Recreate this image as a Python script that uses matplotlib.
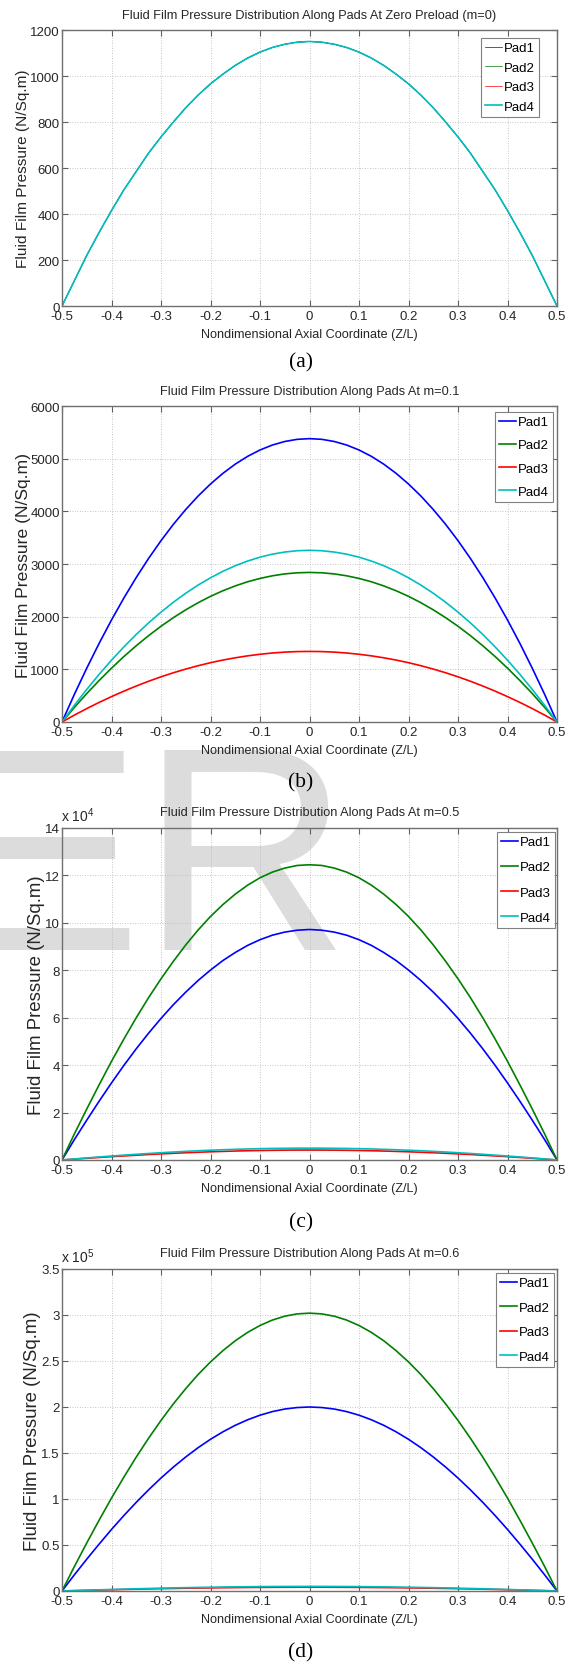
import matplotlib
matplotlib.use('Agg')
import matplotlib.pyplot as plt
from matplotlib.ticker import FormatStrFormatter

# Pressure along the pads (a)-(d) every 0.025 in Z/L.
z = [-0.5, -0.475, -0.45, -0.425, -0.4, -0.375, -0.35, -0.325, -0.3, -0.275, -0.25,
     -0.225, -0.2, -0.175, -0.15, -0.125, -0.1, -0.075, -0.05, -0.025, 0.0,
     0.025, 0.05, 0.075, 0.1, 0.125, 0.15, 0.175, 0.2, 0.225, 0.25,
     0.275, 0.3, 0.325, 0.35, 0.375, 0.4, 0.425, 0.45, 0.475, 0.5]

# (a) zero preload: all four pads coincide
pad_a = [0, 110, 220, 320, 415, 505, 585, 665, 735, 800, 862,
         917, 966, 1008, 1046, 1078, 1104, 1124, 1138, 1147, 1150,
         1147, 1138, 1124, 1104, 1078, 1046, 1008, 966, 917, 862,
         800, 735, 665, 585, 505, 415, 320, 220, 110, 0]

# (b) m=0.1
pad1_b = [0, 525, 1022, 1493, 1937, 2354, 2744, 3107, 3443, 3753, 4035,
          4291, 4519, 4721, 4896, 5044, 5165, 5259, 5326, 5367, 5380,
          5367, 5326, 5259, 5165, 5044, 4896, 4721, 4519, 4291, 4035,
          3753, 3443, 3107, 2744, 2354, 1937, 1493, 1022, 525, 0]
pad2_b = [0, 277, 540, 788, 1022, 1243, 1448, 1640, 1818, 1981, 2130,
          2265, 2386, 2492, 2584, 2663, 2726, 2776, 2812, 2833, 2840,
          2833, 2812, 2776, 2726, 2663, 2584, 2492, 2386, 2265, 2130,
          1981, 1818, 1640, 1448, 1243, 1022, 788, 540, 277, 0]
pad3_b = [0, 131, 255, 372, 482, 586, 683, 774, 858, 935, 1005,
          1069, 1126, 1176, 1219, 1256, 1286, 1310, 1327, 1337, 1340,
          1337, 1327, 1310, 1286, 1256, 1219, 1176, 1126, 1069, 1005,
          935, 858, 774, 683, 586, 482, 372, 255, 131, 0]
pad4_b = [0, 318, 619, 905, 1174, 1426, 1663, 1883, 2086, 2274, 2445,
          2600, 2738, 2861, 2967, 3056, 3130, 3187, 3227, 3252, 3260,
          3252, 3227, 3187, 3130, 3056, 2967, 2861, 2738, 2600, 2445,
          2274, 2086, 1883, 1663, 1426, 1174, 905, 619, 318, 0]

# (c) m=0.5, in units of 1e4
pad1_c = [0, 0.86, 1.68, 2.48, 3.25, 3.99, 4.69, 5.35, 5.97, 6.55, 7.08,
          7.57, 8.01, 8.41, 8.75, 9.05, 9.29, 9.48, 9.61, 9.69, 9.72,
          9.69, 9.61, 9.48, 9.29, 9.05, 8.75, 8.41, 8.01, 7.57, 7.08,
          6.55, 5.97, 5.35, 4.69, 3.99, 3.25, 2.48, 1.68, 0.86, 0]
pad2_c = [0, 1.10, 2.15, 3.17, 4.16, 5.10, 6.00, 6.85, 7.64, 8.38, 9.07,
          9.70, 10.27, 10.77, 11.21, 11.59, 11.90, 12.14, 12.31, 12.42, 12.45,
          12.42, 12.31, 12.14, 11.90, 11.59, 11.21, 10.77, 10.27, 9.70, 9.07,
          8.38, 7.64, 6.85, 6.00, 5.10, 4.16, 3.17, 2.15, 1.10, 0]
pad3_c = [0, 0.037, 0.073, 0.107, 0.140, 0.172, 0.202, 0.231, 0.258, 0.283, 0.306,
          0.327, 0.346, 0.363, 0.378, 0.391, 0.401, 0.410, 0.415, 0.419, 0.420,
          0.419, 0.415, 0.410, 0.401, 0.391, 0.378, 0.363, 0.346, 0.327, 0.306,
          0.283, 0.258, 0.231, 0.202, 0.172, 0.140, 0.107, 0.073, 0.037, 0]
pad4_c = [0, 0.044, 0.087, 0.128, 0.167, 0.205, 0.241, 0.275, 0.307, 0.337, 0.364,
          0.390, 0.412, 0.433, 0.450, 0.465, 0.478, 0.488, 0.494, 0.499, 0.500,
          0.499, 0.494, 0.488, 0.478, 0.465, 0.450, 0.433, 0.412, 0.390, 0.364,
          0.337, 0.307, 0.275, 0.241, 0.205, 0.167, 0.128, 0.087, 0.044, 0]

# (d) m=0.6, in units of 1e5
pad1_d = [0, 0.176, 0.346, 0.510, 0.669, 0.820, 0.964, 1.100, 1.228, 1.347, 1.457,
          1.558, 1.649, 1.730, 1.801, 1.861, 1.911, 1.950, 1.978, 1.994, 2.000,
          1.994, 1.978, 1.950, 1.911, 1.861, 1.801, 1.730, 1.649, 1.558, 1.457,
          1.347, 1.228, 1.100, 0.964, 0.820, 0.669, 0.510, 0.346, 0.176, 0]
pad2_d = [0, 0.266, 0.522, 0.770, 1.010, 1.238, 1.456, 1.661, 1.854, 2.034, 2.200,
          2.353, 2.490, 2.612, 2.720, 2.811, 2.886, 2.945, 2.987, 3.012, 3.020,
          3.012, 2.987, 2.945, 2.886, 2.811, 2.720, 2.612, 2.490, 2.353, 2.200,
          2.034, 1.854, 1.661, 1.456, 1.238, 1.010, 0.770, 0.522, 0.266, 0]
pad3_d = [0, 0.0036, 0.0071, 0.0105, 0.0137, 0.0168, 0.0198, 0.0226, 0.0252, 0.0276, 0.0299,
          0.0319, 0.0338, 0.0355, 0.0369, 0.0382, 0.0392, 0.0400, 0.0405, 0.0409, 0.0410,
          0.0409, 0.0405, 0.0400, 0.0392, 0.0382, 0.0369, 0.0355, 0.0338, 0.0319, 0.0299,
          0.0276, 0.0252, 0.0226, 0.0198, 0.0168, 0.0137, 0.0105, 0.0071, 0.0036, 0]
pad4_d = [0, 0.0044, 0.0087, 0.0128, 0.0167, 0.0205, 0.0241, 0.0275, 0.0307, 0.0337, 0.0364,
          0.0390, 0.0412, 0.0433, 0.0450, 0.0465, 0.0478, 0.0488, 0.0494, 0.0499, 0.0500,
          0.0499, 0.0494, 0.0488, 0.0478, 0.0465, 0.0450, 0.0433, 0.0412, 0.0390, 0.0364,
          0.0337, 0.0307, 0.0275, 0.0241, 0.0205, 0.0167, 0.0128, 0.0087, 0.0044, 0]

pad_names = ['Pad1', 'Pad2', 'Pad3', 'Pad4']
pad_colors = ['#0000ff', '#008000', '#ff0000', '#00bfbf']
xticks = [-0.5, -0.4, -0.3, -0.2, -0.1, 0, 0.1, 0.2, 0.3, 0.4, 0.5]

plt.rcParams['axes.unicode_minus'] = False
plt.rcParams['mathtext.default'] = 'regular'
plt.rcParams['font.family'] = ['Liberation Sans', 'DejaVu Sans']

W, H = 573.0, 1665.0
fig = plt.figure(figsize=(W / 100, H / 100), dpi=100)
fig.patch.set_facecolor('white')

# light watermark behind everything
fig.text(-52 / W, 1 - 950 / H, 'ER', fontsize=208, family='Liberation Sans',
         color='#dcdcdc', ha='left', va='baseline', zorder=-5)

panels = [
  dict(top=31, bottom=307, series=[pad_a] * 4, ylim=1200, ystep=200, lw=[0.5, 0.5, 0.5, 1.2],
       title='Fluid Film Pressure Distribution Along Pads At Zero Preload (m=0)',
       ylsize=11.1, ylx=-0.064, offset=None, cap='(a)', capy=363,
       leg_anchor=(1 - 18 / 495, 1 - 8 / 276), legspace=0.56),
  dict(top=407, bottom=723, series=[pad1_b, pad2_b, pad3_b, pad4_b], ylim=6000, ystep=1000,
       lw=[1.2] * 4, title='Fluid Film Pressure Distribution Along Pads At m=0.1',
       ylsize=12.6, ylx=-0.062, offset=None, cap='(b)', capy=783,
       leg_anchor=(1 - 4 / 495, 1 - 6 / 316), legspace=0.83),
  dict(top=829, bottom=1161, series=[pad1_c, pad2_c, pad3_c, pad4_c], ylim=14, ystep=2,
       lw=[1.2] * 4, title='Fluid Film Pressure Distribution Along Pads At m=0.5',
       ylsize=13.4, ylx=-0.034, offset='x 10$^{4}$', cap='(c)', capy=1223,
       leg_anchor=(1 - 2 / 495, 1 - 4 / 332), legspace=0.98),
  dict(top=1270, bottom=1592, series=[pad1_d, pad2_d, pad3_d, pad4_d], ylim=3.5, ystep=0.5,
       lw=[1.2] * 4, title='Fluid Film Pressure Distribution Along Pads At m=0.6',
       ylsize=13.4, ylx=-0.042, offset='x 10$^{5}$', cap='(d)', capy=1653,
       leg_anchor=(1 - 3 / 495, 1 - 4 / 322), legspace=0.93),
]

left, right = 62, 557
for p in panels:
  ax = fig.add_axes([left / W, 1 - p['bottom'] / H, (right - left) / W, (p['bottom'] - p['top']) / H])
  ax.set_facecolor('none')
  for name, color, vals, lw in zip(pad_names, pad_colors, p['series'], p['lw']):
    ax.plot(z, vals, color=color, lw=lw, label=name)

  ax.set_xlim(-0.5, 0.5)
  ax.set_ylim(0, p['ylim'])
  ax.set_xticks(xticks)
  n = int(round(p['ylim'] / p['ystep']))
  ax.set_yticks([i * p['ystep'] for i in range(n + 1)])
  ax.xaxis.set_major_formatter(FormatStrFormatter('%g'))
  ax.yaxis.set_major_formatter(FormatStrFormatter('%g'))
  ax.grid(True, color='#b4b4b4', lw=0.6, linestyle=(0, (1, 2)))
  ax.tick_params(direction='in', length=4, width=0.8, color='#606060',
                 top=True, right=True, labelsize=9.5, labelcolor='#262626')
  ax.tick_params(axis='x', pad=3)
  ax.tick_params(axis='y', pad=1.5)
  for s in ax.spines.values():
    s.set_color('#707070')
    s.set_linewidth(1.0)

  ax.set_title(p['title'], fontsize=9.2, color='#262626', pad=9)
  ax.set_xlabel('Nondimensional Axial Coordinate (Z/L)', fontsize=9.1, color='#262626', labelpad=4)
  ax.set_ylabel('Fluid Film Pressure (N/Sq.m)', fontsize=p['ylsize'], color='#262626')
  ax.yaxis.set_label_coords(p['ylx'], 0.5)
  if p['offset']:
    ax.annotate(p['offset'], xy=(0, 1), xycoords='axes fraction', xytext=(-1, 3),
                textcoords='offset points', ha='left', va='bottom', fontsize=10, color='#262626')

  leg = ax.legend(loc='upper right', bbox_to_anchor=p['leg_anchor'], borderaxespad=0,
                  fontsize=9.5, handlelength=1.3, handletextpad=0.15, borderpad=0.3,
                  labelspacing=p['legspace'], fancybox=False, framealpha=1,
                  edgecolor='#808080')
  leg.get_frame().set_linewidth(0.8)

  fig.text(301 / W, 1 - p['capy'] / H, p['cap'], fontsize=15.5, family='Liberation Serif',
           ha='center', va='center')

plt.savefig('out.png', dpi=100)
